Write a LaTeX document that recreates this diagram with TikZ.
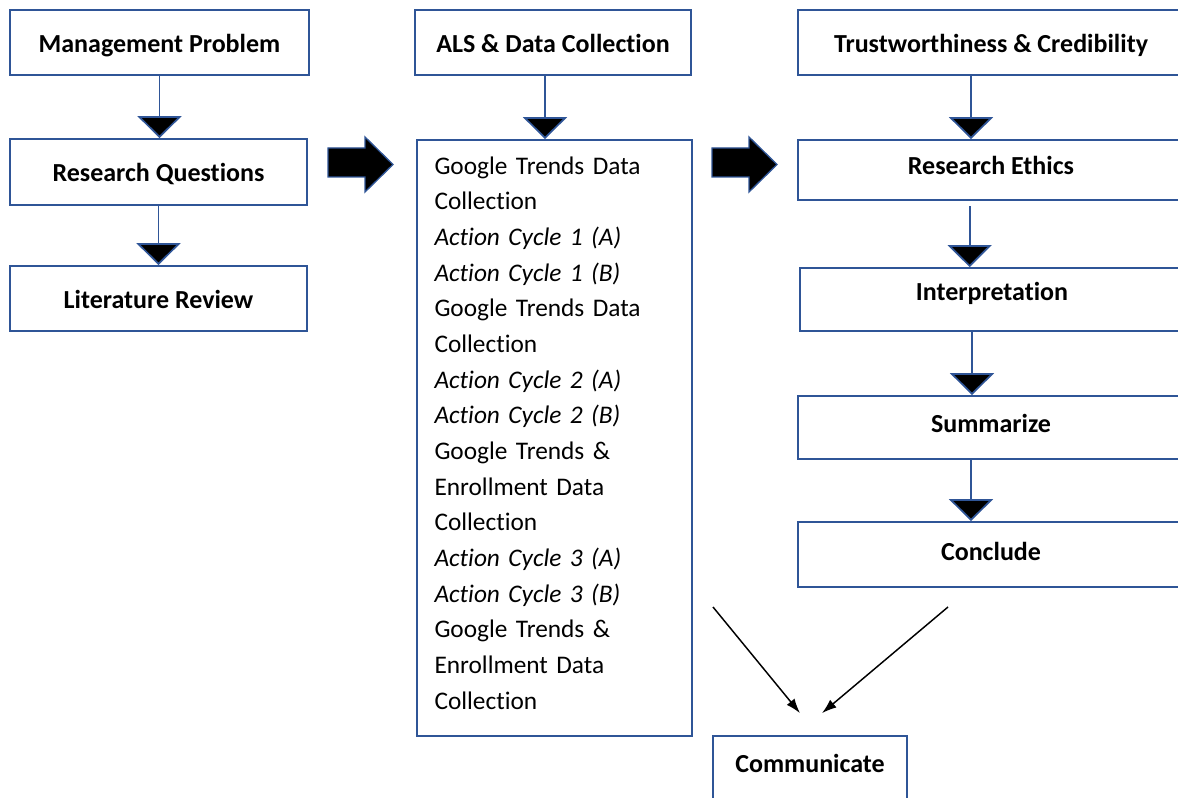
\documentclass[tikz,border=0pt]{standalone}
\usepackage{fontspec}
\setmainfont{Carlito}[Ligatures=NoCommon]
\usetikzlibrary{positioning}
\usetikzlibrary{calc}
\usetikzlibrary{arrows.meta}
\definecolor{boxblue}{RGB}{47,85,151}

\begin{document}
\begin{tikzpicture}[x=0.75pt, y=-0.75pt,
    frame/.style={draw=boxblue, line width=1.3pt, rectangle, inner sep=0pt},
    box/.style={frame, font=\fontsize{19.5}{23}\selectfont\bfseries, text height=18.8pt, text depth=4pt},
    wide/.style={box, minimum width=289.5pt},
    flow/.style={draw=boxblue, line width=1.3pt, -{Triangle[width=33pt,length=16.5pt,fill=black]}},
    block/.style={fill=black, draw=boxblue, line width=1pt},
    thin/.style={black, line width=1.1pt, -{Latex[length=11pt,width=7.5pt]}}]
    \useasboundingbox (0,0) rectangle (1178,798);

    \node[box, minimum width=224.25pt, minimum height=48.75pt] (problem) at (159.5,42.5) {Management Problem};
    \node[box, minimum width=222.75pt, minimum height=49.5pt] (questions) at (158.5,172) {Research Questions};
    \node[box, minimum width=222.75pt, minimum height=48.75pt] (review) at (158.5,298.5) {Literature Review};

    \node[box, minimum width=207pt, minimum height=48.75pt] (als) at (553,42.5) {ALS \& Data Collection};
    \node[frame, font=\fontsize{19}{26.75}\selectfont, text width=180pt, align=left, inner xsep=12.75pt,
          minimum width=206.25pt, minimum height=447pt] (steps) at (554.5,438) {Google Trends Data\\ Collection\\ \textit{Action Cycle 1 (A)}\\ \textit{Action Cycle 1 (B)}\\ Google Trends Data\\ Collection\\ \textit{Action Cycle 2 (A)}\\ \textit{Action Cycle 2 (B)}\\ Google Trends \&\\ Enrollment Data\\ Collection\\ \textit{Action Cycle 3 (A)}\\ \textit{Action Cycle 3 (B)}\\ Google Trends \&\\ Enrollment Data\\ Collection\vspace{7.5pt}};

    \node[wide, minimum height=48.75pt] (trust) at (991,42.5) {Trustworthiness \& Credibility};
    \node[wide, minimum height=45pt, text depth=11.5pt] (ethics) at (991,170) {Research Ethics};
    \node[wide, minimum width=288pt, minimum height=47.25pt, text depth=16.8pt] (interp) at (992,299.5) {Interpretation};
    \node[wide, minimum height=47.25pt, text depth=10.8pt] (summarize) at (991,427.5) {Summarize};
    \node[wide, minimum height=48.75pt, text depth=9.2pt] (conclude) at (991,554.5) {Conclude};
    \node[box, minimum width=145.5pt, minimum height=66pt, text depth=29.5pt] (communicate) at (810,780) {Communicate};

    \draw[flow] (problem.south) -- (problem.south |- questions.north);
    \draw[flow] (questions.south) -- (questions.south |- review.north);
    \draw[flow] ([xshift=-6pt]als.south) -- ([xshift=-6pt]als.south |- steps.north);
    \draw[flow] ([xshift=-15pt]trust.south) -- ([xshift=-15pt]trust.south |- ethics.north);
    \draw[flow] ([xshift=-16pt,yshift=-4pt]ethics.south) -- ([xshift=-16pt]ethics.south |- interp.north);
    \draw[flow] ([xshift=-15pt]interp.south) -- ([xshift=-15pt]interp.south |- summarize.north);
    \draw[flow] ([xshift=-15pt]summarize.south) -- ([xshift=-15pt]summarize.south |- conclude.north);

    \foreach \dx in {0,384}
        \draw[block, shift={(\dx,0)}] (328,148) -- (365,148) -- (365,137) -- (393,164.5) -- (365,192) -- (365,177) -- (328,177) -- cycle;

    \coordinate (fromsteps) at (713,607);
    \coordinate (fromconclude) at (948,607);
    \draw[thin] (fromsteps) -- ([xshift=-7.5pt,yshift=16.5pt]communicate.north);
    \draw[thin] (fromconclude) -- ([xshift=9pt,yshift=16.5pt]communicate.north);
\end{tikzpicture}
\end{document}
